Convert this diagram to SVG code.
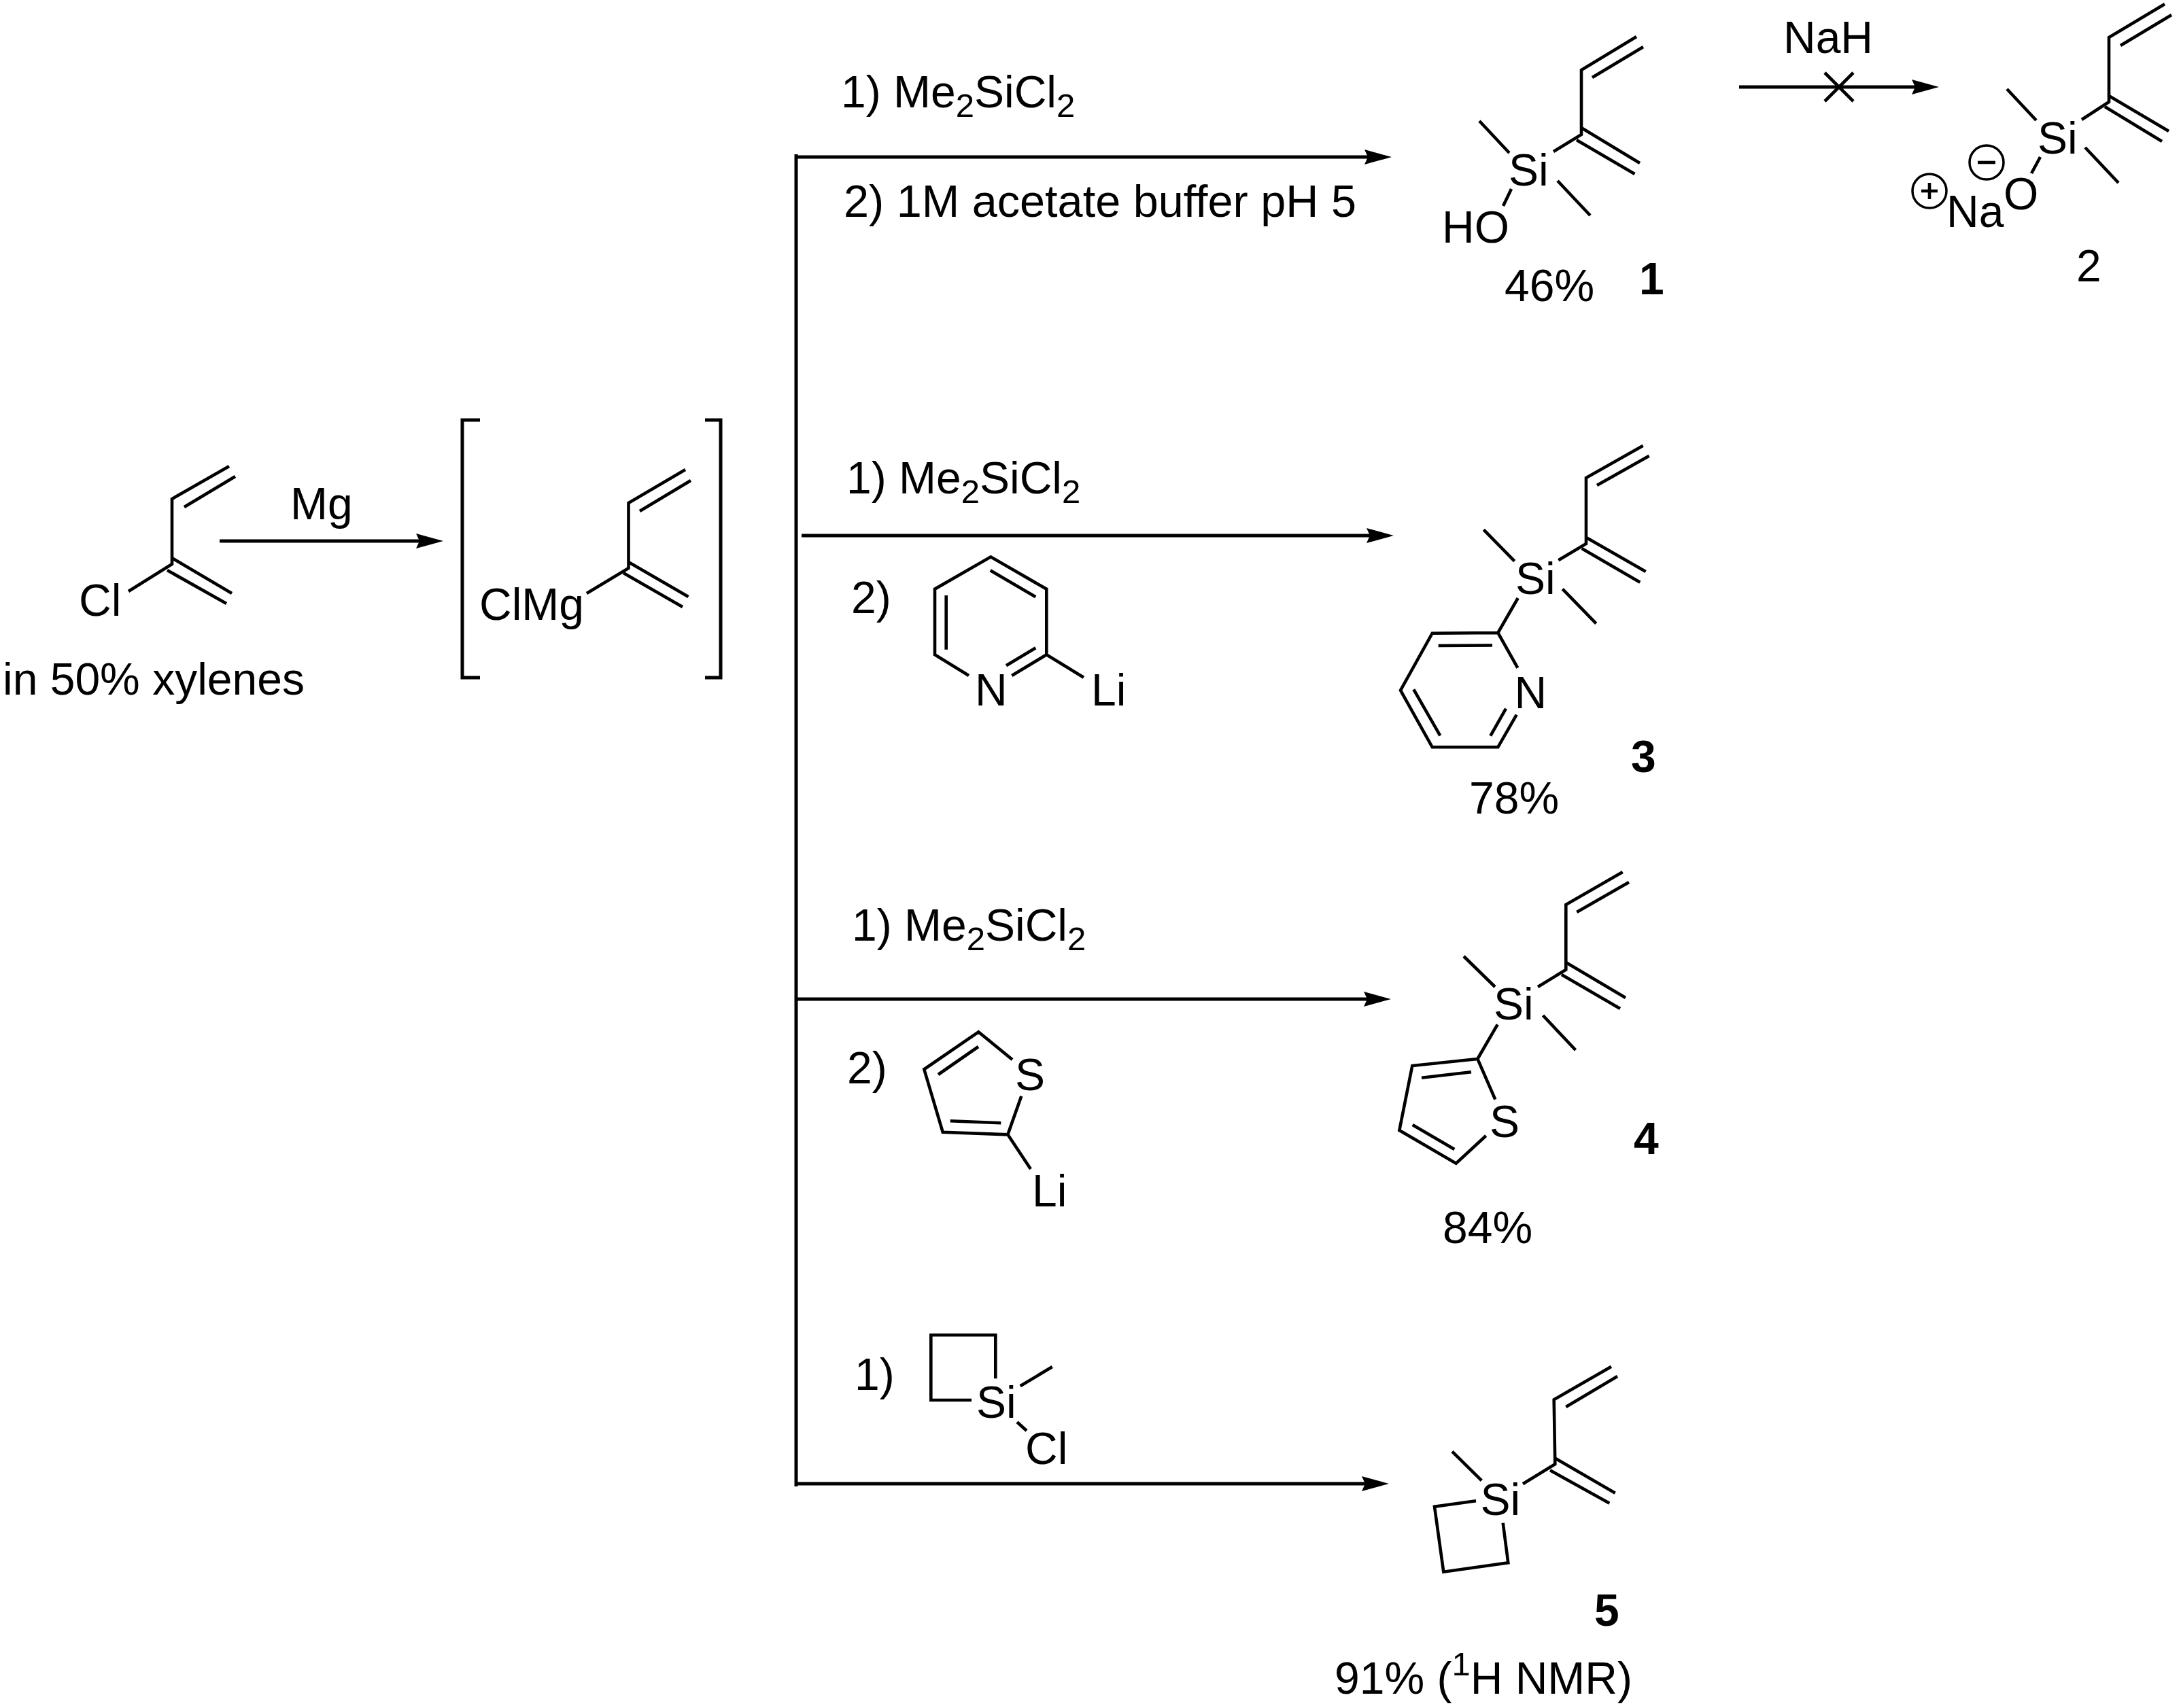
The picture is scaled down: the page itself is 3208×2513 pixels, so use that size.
<svg xmlns="http://www.w3.org/2000/svg" width="3208" height="2513" viewBox="0 0 3208 2513">
<style>
text{font-family:"Liberation Sans",Arial,sans-serif;font-size:66px;fill:#000}
.n{font-weight:700}
.s{font-size:49px}
.b{fill:none;stroke:#000;stroke-width:4.6;stroke-linejoin:miter;stroke-linecap:butt}
.c{fill:none;stroke:#000;stroke-width:3.5}
.a{fill:none;stroke:#000;stroke-width:5}
.ah{marker-end:url(#head)}
.br{fill:none;stroke:#000;stroke-width:5}
</style>
<defs>
<marker id="head" markerUnits="userSpaceOnUse" markerWidth="40" markerHeight="26" refX="30" refY="13" orient="auto" viewBox="0 0 40 26">
<path d="M0 2L40 13L0 24L5 13Z" fill="#000"/>
</marker>
</defs>
<rect width="3208" height="2513" fill="#fff"/>

<g id="connectors">
<path class="a" d="M1171 227V2187"/>
<path class="a ah" d="M1171 231H2037"/>
<path class="a ah" d="M1179 788H2040"/>
<path class="a ah" d="M1171 1470H2036"/>
<path class="a ah" d="M1171 2183H2033"/>
<path class="a ah" d="M323 796H642"/>
<path class="a ah" d="M2558 128H2842"/>
<path class="b" d="M2684 107L2726 149M2726 107L2684 149"/>
</g>

<g id="chloroprene">
<path class="b" d="M337 686L253 734V830L189 870"/>
<path class="b" d="M346 701L271 746"/>
<path class="b" d="M253 821L341 873M246 839L333 888"/>
<text x="116" y="906">Cl</text>
<text x="4" y="1022">in 50% xylenes</text>
</g>

<text id="label-mg" x="427" y="764">Mg</text>

<g id="grignard">
<path class="br" d="M706 618H680V997H706M1037 618H1060V997H1037"/>
<path class="b" d="M1008 691L924.5 740V836L863 873"/>
<path class="b" d="M1016 707L941 752"/>
<path class="b" d="M924.5 827L1012.5 878M917 843L1004 893"/>
<text x="705" y="912">ClMg</text>
</g>

<g id="cond1">
<text x="1237" y="158">1) Me<tspan class="s" dy="14">2</tspan><tspan dy="-14">SiCl</tspan><tspan class="s" dy="14">2</tspan></text>
<text x="1241" y="319" style="font-size:66.6px">2) 1M acetate buffer pH 5</text>
</g>

<g id="compound-1">
<path class="b" d="M2407 54L2326 103V198L2285 223"/>
<path class="b" d="M2417 69L2342 114"/>
<path class="b" d="M2326 188L2412 240M2319 206L2404.5 256"/>
<path class="b" d="M2176 178L2220 225M2291 266L2339 317M2223 278L2211 303"/>
<text x="2219" y="273">Si</text>
<text x="2121" y="357">HO</text>
<text x="2213" y="443">46%</text>
<text class="n" x="2411" y="433">1</text>
</g>

<text id="label-nah" x="2623" y="78">NaH</text>

<g id="compound-2">
<path class="b" d="M3184 6L3102 55V150L3062 176"/>
<path class="b" d="M3194 22L3119 67"/>
<path class="b" d="M3102 141L3190 193M3096 157L3180 208"/>
<path class="b" d="M2952 131L2995 177M3067 217L3116 269M3001 231L2988 255"/>
<text x="2997" y="226">Si</text>
<text x="2947" y="308">O</text>
<text x="2863" y="334">Na</text>
<circle class="c" cx="2922" cy="239" r="25"/>
<path class="b" d="M2909 239H2935"/>
<circle class="c" cx="2838" cy="281" r="25"/>
<path class="b" d="M2826 281H2850M2838 269V293"/>
<text x="3054" y="414">2</text>
</g>

<g id="cond2">
<text x="1245" y="726">1) Me<tspan class="s" dy="14">2</tspan><tspan dy="-14">SiCl</tspan><tspan class="s" dy="14">2</tspan></text>
<text x="1252" y="902">2)</text>
<path class="b" d="M1425 994L1375 963.3V866.7L1457.3 819.3L1539.3 866.7V963.3L1594 996.7M1539.3 963.3L1488.3 994"/>
<path class="b" d="M1456.7 839.3L1523.3 878.3M1391.7 876V955.7M1523.3 953.3L1480 979.3"/>
<text x="1434" y="1038">N</text>
<text x="1605" y="1038">Li</text>
</g>

<g id="compound-3">
<path class="b" d="M2416.7 655.7L2333 703V800L2292.3 824.3"/>
<path class="b" d="M2425.7 670.7L2349 714"/>
<path class="b" d="M2333 790.7L2420.7 841M2326.7 807L2412.3 856.7"/>
<path class="b" d="M2182.3 779.3L2227.7 825.7M2298.3 866.7L2347.7 917.3"/>
<path class="b" d="M2232.7 880L2203.3 931L2232.3 982.7M2203.3 931L2106.7 931.7L2060 1015.7L2106.7 1099.3H2203.3L2230.7 1051.7"/>
<path class="b" d="M2115.7 950L2195 949.5M2079.3 1014.3L2118.3 1082.3M2192.3 1082.7L2215 1042.7"/>
<text x="2229" y="874">Si</text>
<text x="2227.5" y="1042">N</text>
<text class="n" x="2399" y="1136">3</text>
<text x="2161" y="1197">78%</text>
</g>

<g id="cond3">
<text x="1253" y="1384">1) Me<tspan class="s" dy="14">2</tspan><tspan dy="-14">SiCl</tspan><tspan class="s" dy="14">2</tspan></text>
<text x="1246" y="1594">2)</text>
<path class="b" d="M1489 1559L1439.3 1518.3L1359.3 1573.3L1386.7 1665.7L1482.3 1669.3L1502.3 1612.7M1482.3 1669.3L1516 1720"/>
<path class="b" d="M1439 1540L1380 1581M1397.7 1649.3L1472.3 1652.3"/>
<text x="1493" y="1604">S</text>
<text x="1518" y="1775">Li</text>
</g>

<g id="compound-4">
<path class="b" d="M2386.7 1283L2303.3 1331V1426.7L2262 1452"/>
<path class="b" d="M2396 1298L2319.3 1342"/>
<path class="b" d="M2303.3 1416L2391 1468M2297 1434L2383 1484"/>
<path class="b" d="M2153 1407L2199 1452M2269.5 1494L2317.5 1545"/>
<path class="b" d="M2202.7 1507.3L2173.3 1558L2199.3 1617.7M2173.3 1558L2077.3 1568L2058.3 1663L2141.7 1711.7L2185.7 1671"/>
<path class="b" d="M2091 1585.7L2164 1577.3M2077.7 1655L2139.3 1691"/>
<text x="2197" y="1500">Si</text>
<text x="2191" y="1673">S</text>
<text class="n" x="2403" y="1698">4</text>
<text x="2122" y="1829">84%</text>
</g>

<g id="cond4">
<text x="1257" y="2045">1)</text>
<path class="b" d="M1429 2060H1369.3V1964.3H1464.3V2028.3"/>
<path class="b" d="M1500.7 2039.3L1547.7 2011M1496 2092.3L1510 2105"/>
<text x="1436" y="2086">Si</text>
<text x="1508" y="2154">Cl</text>
</g>

<g id="compound-5">
<path class="b" d="M2370 2010.7L2285.7 2059.3L2287.3 2154.3L2240 2183.3"/>
<path class="b" d="M2379 2025L2303.3 2070"/>
<path class="b" d="M2288.3 2146L2375.7 2196.7M2280 2163.3L2367.3 2211.7"/>
<path class="b" d="M2136 2135.7L2179.3 2178.3"/>
<path class="b" d="M2171 2208.3L2110 2216.7L2123.3 2312.7L2218.3 2299.3L2210.7 2240.7"/>
<text x="2177.5" y="2229">Si</text>
<text class="n" x="2345" y="2392">5</text>
<text x="1963" y="2492">91% (<tspan class="s" dy="-27">1</tspan><tspan dy="27">H NMR)</tspan></text>
</g>
</svg>
